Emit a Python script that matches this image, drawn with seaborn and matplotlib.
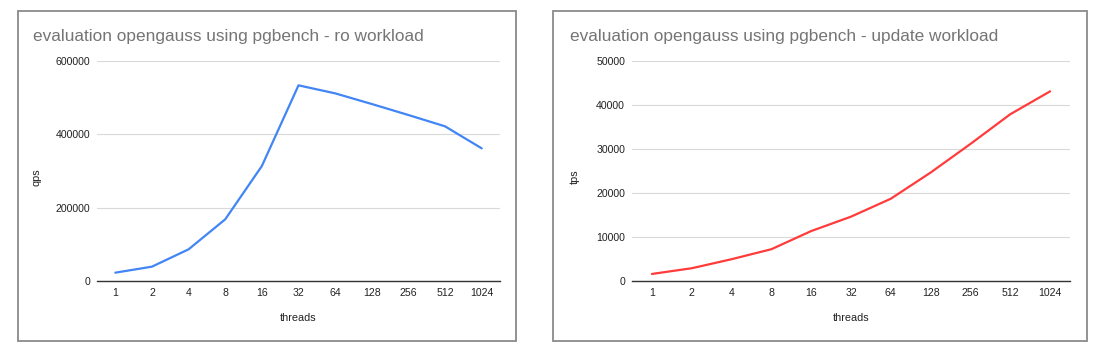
import matplotlib
matplotlib.use("Agg")
import matplotlib.pyplot as plt
import seaborn as sns
import pandas as pd
from matplotlib.patches import Rectangle

threads = ["1", "2", "4", "8", "16", "32", "64", "128", "256", "512", "1024"]
ro_qps = [22700, 39100, 86400, 168200, 313600, 533600, 511800, 482700, 452700, 421800, 361800]
update_tps = [1600, 2900, 4950, 7220, 11350, 14620, 18700, 24650, 31150, 37900, 43100]

sns.set_theme(style="white")
plt.rcParams['font.family'] = ['Liberation Sans', 'DejaVu Sans']

W, H = 1109, 357
fig = plt.figure(figsize=(W / 100, H / 100), dpi=100)

def fx(px):
    return px / W

def fy(py):
    return 1 - py / H

# panel frames
for (x0, x1) in [(18, 516), (553, 1087)]:
    fig.patches.append(Rectangle((fx(x0), fy(341)), fx(x1 - x0), (341 - 11) / H,
                                 transform=fig.transFigure, fill=False,
                                 edgecolor="#8a8a8a", linewidth=1.3))

panels = [
    dict(x0=97, x1=500, vals=ro_qps, color="#4285F4", ylabel="qps",
         yticks=[0, 200000, 400000, 600000], ymax=600000,
         title="evaluation opengauss using pgbench - ro workload", title_x=33, ylabel_x=37),
    dict(x0=632, x1=1070, vals=update_tps, color="#FF3B3B", ylabel="tps",
         yticks=[0, 10000, 20000, 30000, 40000, 50000], ymax=50000,
         title="evaluation opengauss using pgbench - update workload", title_x=570, ylabel_x=575),
]

for p in panels:
    ax = fig.add_axes([fx(p["x0"]), fy(281), fx(p["x1"] - p["x0"]), 220 / H])
    df = pd.DataFrame({"idx": range(len(threads)), "val": p["vals"]})
    sns.lineplot(data=df, x="idx", y="val", ax=ax, color=p["color"], linewidth=1.6)
    ax.set_xlim(-0.5, len(threads) - 0.5)
    ax.set_ylim(0, p["ymax"])
    ax.set_xticks(range(len(threads)))
    ax.set_xticklabels(threads)
    ax.set_yticks(p["yticks"])
    ax.set_yticklabels([str(t) for t in p["yticks"]])
    ax.tick_params(axis="both", labelsize=7.6, colors="#222222", length=0)
    ax.tick_params(axis="y", pad=5)
    ax.tick_params(axis="x", pad=5)
    ax.grid(axis="y", color="#d9d9d9", linewidth=0.8)
    ax.set_axisbelow(True)
    for s in ["top", "right", "left"]:
        ax.spines[s].set_visible(False)
    ax.spines["bottom"].set_color("#333333")
    ax.spines["bottom"].set_linewidth(1.0)
    ax.set_xlabel("")
    ax.set_ylabel("")
    fig.text(fx(p["title_x"]), fy(37), p["title"], fontsize=12.4, color="#757575",
             ha="left", va="center")
    fig.text(fx((p["x0"] + p["x1"]) / 2), fy(318), "threads", fontsize=7.8,
             color="#222222", ha="center", va="center")
    fig.text(fx(p["ylabel_x"]), fy(177), p["ylabel"], fontsize=7.8, color="#222222",
             ha="center", va="center", rotation=90)

fig.savefig("out.png", dpi=100, facecolor="white")
